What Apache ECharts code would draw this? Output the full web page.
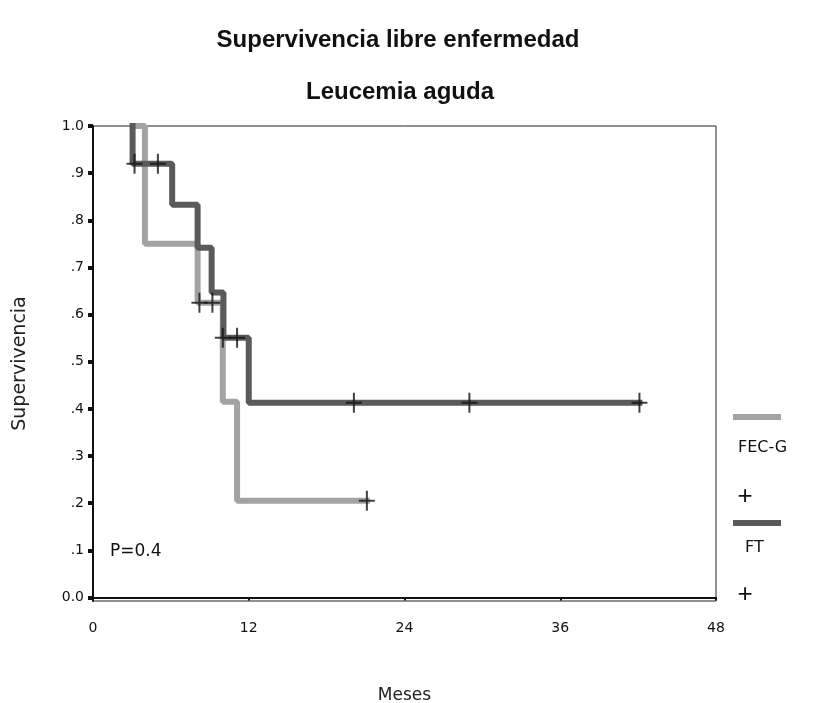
<!DOCTYPE html>
<html>
<head>
<meta charset="utf-8">
<script src="https://cdn.jsdelivr.net/npm/echarts@6/dist/echarts.min.js"></script>
<style>
  html, body { margin: 0; padding: 0; background: #fff; }
  #chart { width: 835px; height: 703px; }
</style>
</head>
<body>
<div id="chart"></div>
<script>
  // curvas Kaplan-Meier (meses, supervivencia)
  var fecgSteps = [[3.2, 1.0], [4.0, 0.75], [8.06, 0.625], [10.0, 0.415], [11.1, 0.205], [21.1, 0.205]];
  var ftSteps = [[3.05, 1.0], [3.05, 0.92], [6.1, 0.833], [8.06, 0.742], [9.14, 0.647], [10.05, 0.551], [12.0, 0.413], [42.1, 0.413]];
  // casos censurados
  var fecgCensored = [[8.2, 0.625], [9.2, 0.625], [21.1, 0.205]];
  var ftCensored = [[3.2, 0.92], [5.0, 0.92], [10.0, 0.551], [11.1, 0.551], [20.1, 0.413], [29.0, 0.413], [42.1, 0.413]];
  var yTicks = [0, 0.1, 0.2, 0.3, 0.4, 0.5, 0.6, 0.7, 0.8, 0.9, 1.0];
  var yTickLabels = ['0.0', '.1', '.2', '.3', '.4', '.5', '.6', '.7', '.8', '.9', '1.0'];
  var xTicks = [0, 12, 24, 36, 48];

  var plus = 'path://M7,0H9V9H16V11H9V20H7V11H0V9H7Z';
  var font = 'Liberation Sans';
  var font2 = 'DejaVu Sans';

  var myChart = echarts.init(document.getElementById('chart'));
  myChart.setOption({
    backgroundColor: '#fff',
    animation: false,
    grid: {
      left: 93, right: 119, top: 126, bottom: 102,
      outerBoundsMode: 'none', containLabel: false,
      show: true, borderColor: '#222', borderWidth: 1
    },
    xAxis: {
      type: 'value', min: 0, max: 48, interval: 12,
      name: 'Meses', nameLocation: 'middle', nameGap: 86,
      nameTextStyle: { fontFamily: font2, fontSize: 17, color: '#222' },
      axisLine: { lineStyle: { color: '#111', width: 2 } },
      axisTick: { show: true, length: 3, lineStyle: { color: '#111', width: 2 } },
      axisLabel: {
        fontFamily: font2, fontSize: 14, color: '#111', margin: 20,
        customValues: xTicks
      },
      splitLine: { show: false }
    },
    yAxis: {
      type: 'value', min: -0.0075, max: 1.0,
      name: 'Supervivencia', nameLocation: 'middle', nameGap: 63,
      nameTextStyle: { fontFamily: font2, fontSize: 19, color: '#222' },
      axisLine: { lineStyle: { color: '#111', width: 2 } },
      axisTick: { show: true, length: 5, customValues: yTicks, lineStyle: { color: '#111', width: 4 } },
      axisLabel: {
        fontFamily: font2, fontSize: 14, color: '#111', margin: 9,
        customValues: yTicks,
        formatter: function (v) {
          var i = Math.round(v * 10);
          return yTickLabels[i];
        }
      },
      splitLine: { show: false }
    },
    graphic: [
      { type: 'text', x: 398, y: 40, style: { text: 'Supervivencia libre enfermedad', font: 'bold 24px ' + font, fill: '#111', align: 'center', verticalAlign: 'middle' } },
      { type: 'text', x: 400, y: 92, style: { text: 'Leucemia aguda', font: 'bold 24px ' + font, fill: '#111', align: 'center', verticalAlign: 'middle' } },
      { type: 'text', x: 110, y: 552, style: { text: 'P=0.4', font: '17px ' + font2, fill: '#111', verticalAlign: 'middle' } },
      // leyenda
      { type: 'rect', shape: { x: 733, y: 414, width: 48, height: 6 }, style: { fill: '#a3a3a3' } },
      { type: 'text', x: 738, y: 448, style: { text: 'FEC-G', font: '16px ' + font2, fill: '#111', verticalAlign: 'middle' } },
      { type: 'text', x: 745, y: 497, style: { text: '+', font: '26px ' + font, fill: '#111', align: 'center', verticalAlign: 'middle' } },
      { type: 'rect', shape: { x: 733, y: 520, width: 48, height: 6 }, style: { fill: '#5a5a5a' } },
      { type: 'text', x: 745, y: 548, style: { text: 'FT', font: '16px ' + font2, fill: '#111', verticalAlign: 'middle' } },
      { type: 'text', x: 745, y: 595, style: { text: '+', font: '26px ' + font, fill: '#111', align: 'center', verticalAlign: 'middle' } }
    ],
    series: [{
      name: 'FEC-G', type: 'line', step: 'end', data: fecgSteps,
      showSymbol: false, z: 2,
      lineStyle: { color: '#a3a3a3', width: 6, cap: 'square' }
    }, {
      name: 'FT', type: 'line', step: 'end', data: ftSteps,
      showSymbol: false, z: 3,
      lineStyle: { color: '#5a5a5a', width: 6, cap: 'square' }
    }, {
      name: 'FEC-G cens', type: 'scatter', data: fecgCensored,
      symbol: plus, symbolSize: [16, 20], z: 4,
      itemStyle: { color: '#111' }
    }, {
      name: 'FT cens', type: 'scatter', data: ftCensored,
      symbol: plus, symbolSize: [16, 20], z: 4,
      itemStyle: { color: '#111' }
    }]
  });
</script>
</body>
</html>
